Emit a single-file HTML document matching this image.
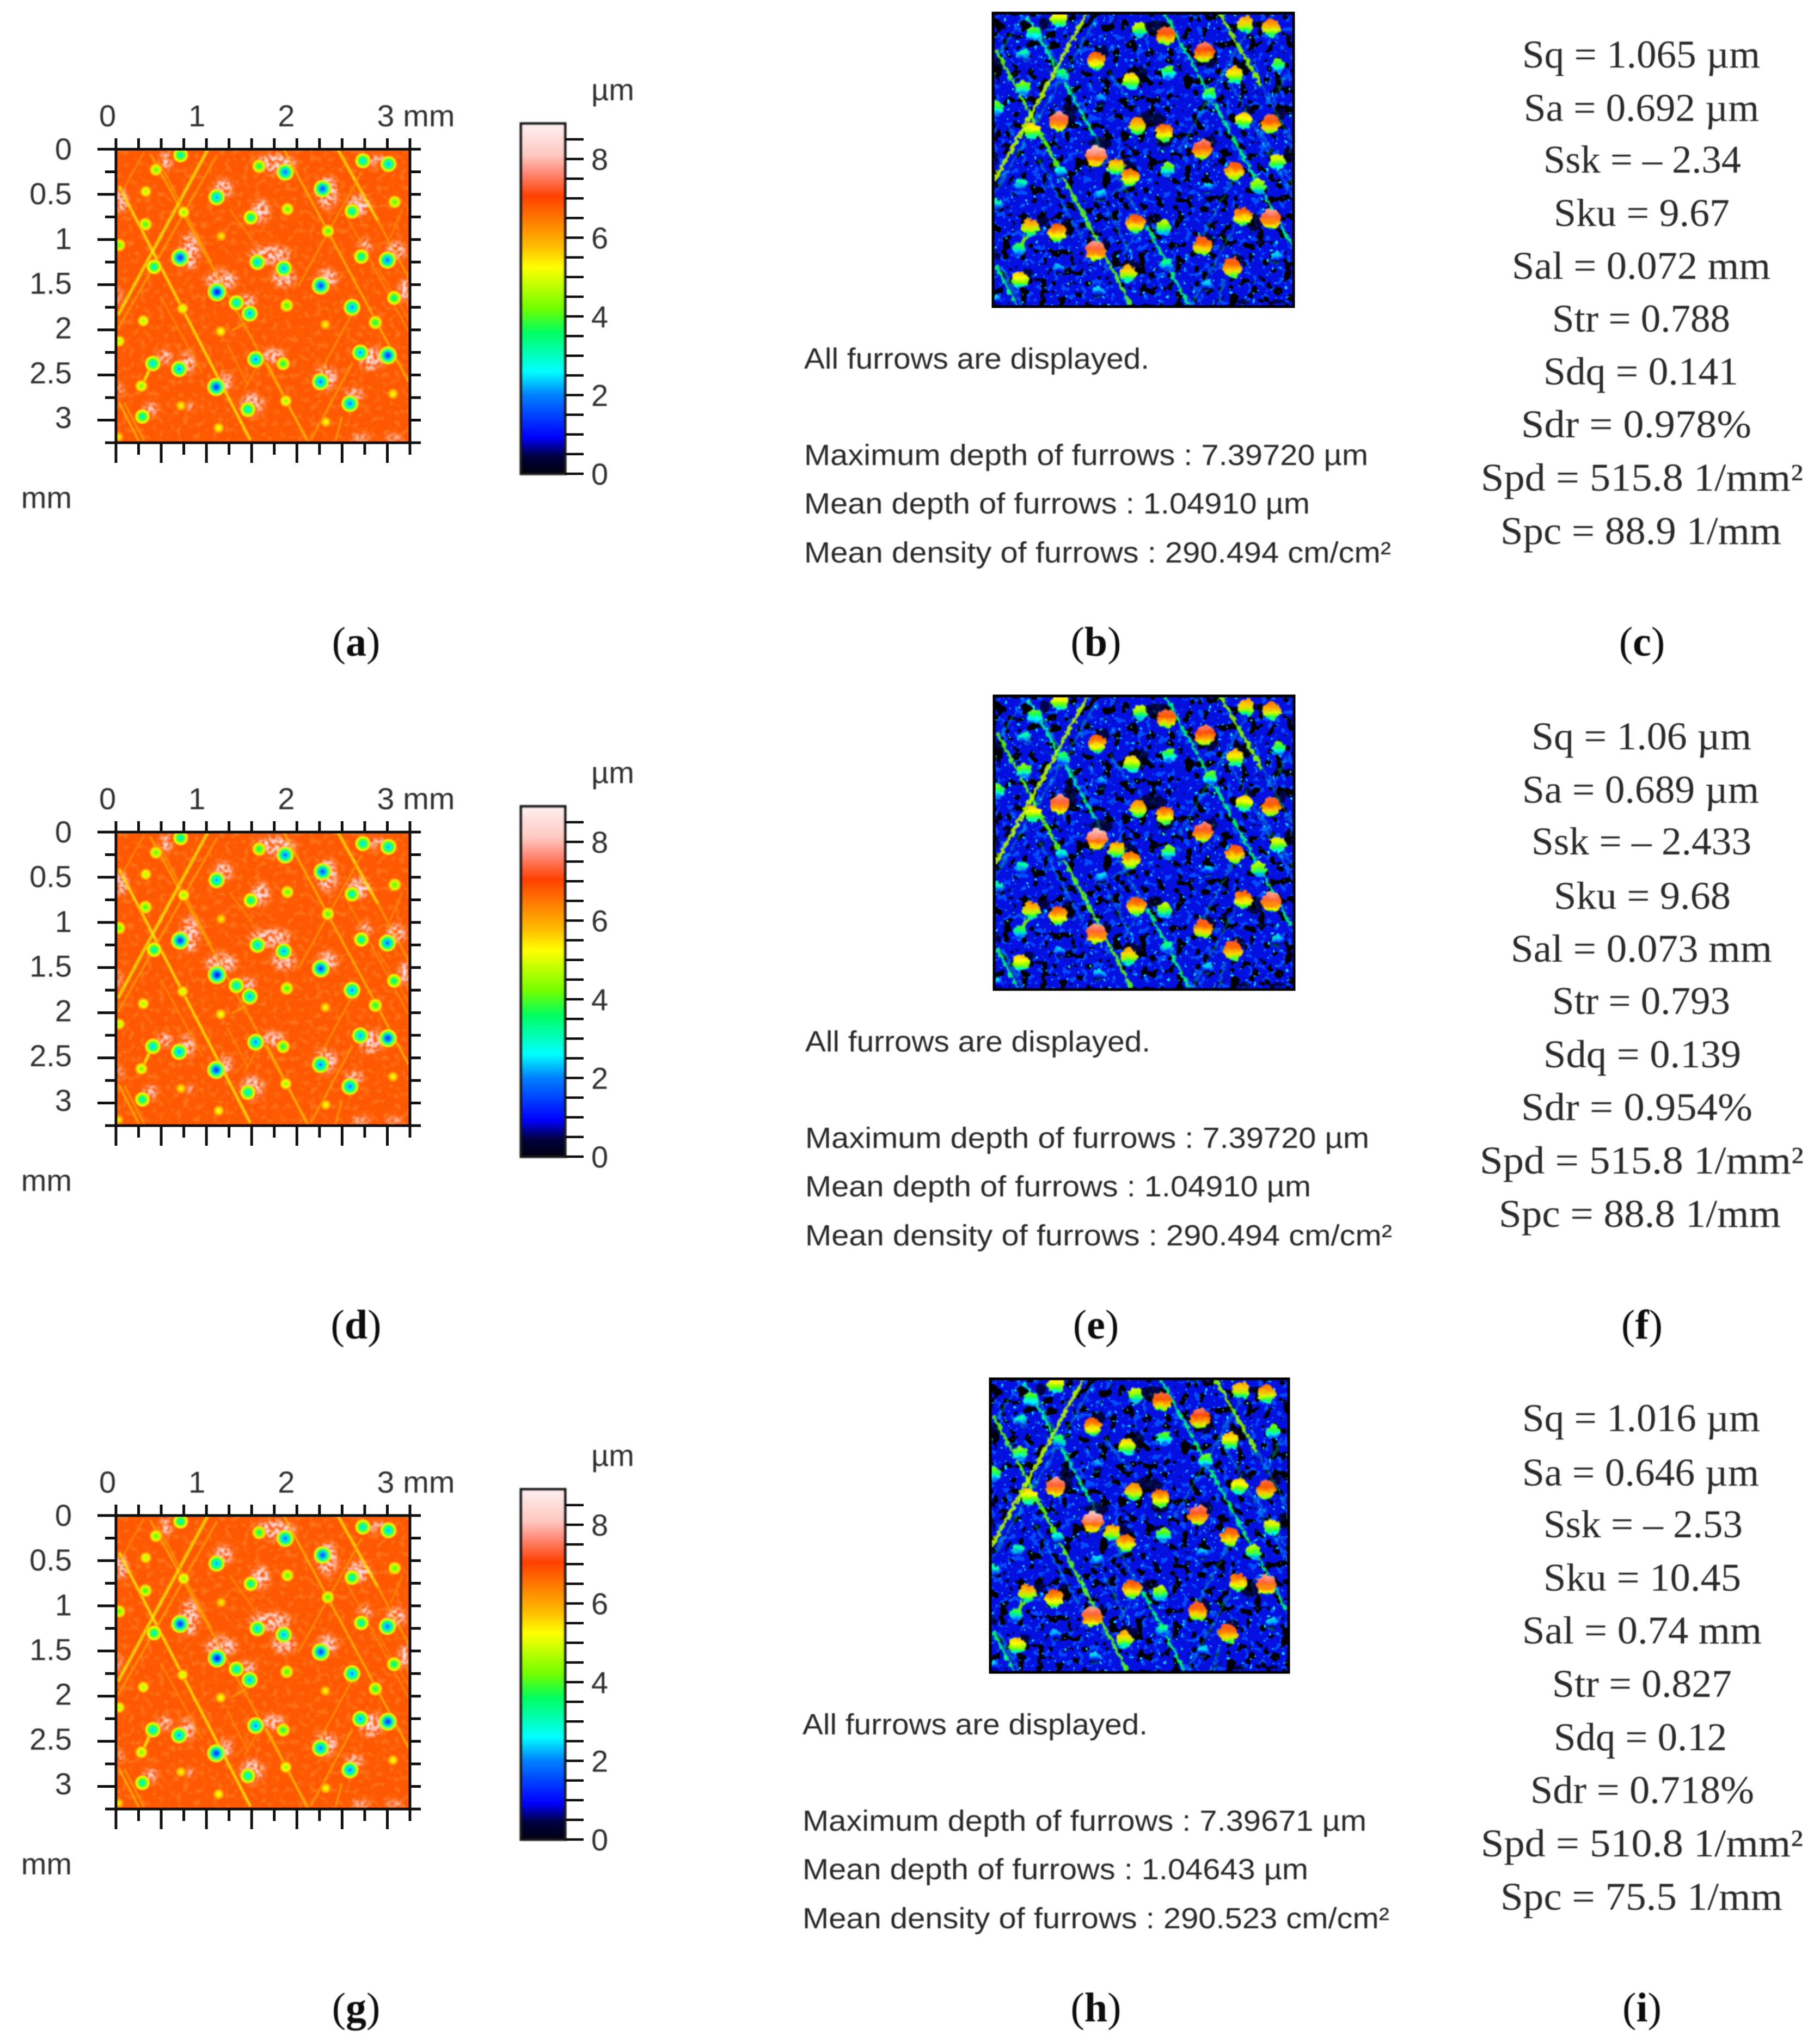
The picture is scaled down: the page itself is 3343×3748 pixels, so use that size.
<!DOCTYPE html>
<html lang="en">
<head>
<meta charset="utf-8">
<title>Surface topography, furrow maps and roughness parameters</title>
<style>
html,body{margin:0;padding:0;background:#fff;width:3343px;height:3748px;overflow:hidden}
svg{display:block}
.ax{font-family:"Liberation Sans",sans-serif;font-size:56px;fill:#333}
.fur{font-family:"Liberation Sans",sans-serif;font-size:54px;fill:#2c2c2c}
.st{font-family:"Liberation Serif",serif;font-size:72px;fill:#2a2a2a}
.cap{font-family:"Liberation Serif",serif;font-size:76px;fill:#111;text-anchor:middle}
.cap tspan{font-weight:bold}
</style>
</head>
<body>
<svg id="root" xmlns="http://www.w3.org/2000/svg" width="3343" height="3748" viewBox="0 0 3343 3748">
<defs id="defs">
<filter id="soft" x="-5%" y="-5%" width="110%" height="110%"><feGaussianBlur stdDeviation="1.1"/></filter>
<filter id="softText" x="-5%" y="-20%" width="110%" height="140%"><feGaussianBlur stdDeviation="0.7"/></filter>
<filter id="haloF" x="-10%" y="-10%" width="120%" height="120%" color-interpolation-filters="sRGB">
  <feGaussianBlur in="SourceGraphic" stdDeviation="5" result="b"/>
  <feTurbulence type="fractalNoise" baseFrequency="0.15" numOctaves="2" seed="5"/>
  <feColorMatrix values="0 0 0 0 0  0 0 0 0 0  0 0 0 0 0  7 0 0 0 -2.9" result="n"/>
  <feComposite in="b" in2="n" operator="in"/>
  <feGaussianBlur stdDeviation="1.1"/>
</filter>
<filter id="mottle" x="0" y="0" width="100%" height="100%" color-interpolation-filters="sRGB">
  <feTurbulence type="fractalNoise" baseFrequency="0.09" numOctaves="3" seed="8"/>
  <feColorMatrix values="0 0 0 0 1  0 0 0 0 0.52  0 0 0 0 0.15  5 0 0 0 -2.6"/>
</filter>
<filter id="noiseBlack" x="0" y="0" width="100%" height="100%" color-interpolation-filters="sRGB">
  <feTurbulence type="fractalNoise" baseFrequency="0.06" numOctaves="2" seed="3"/>
  <feColorMatrix values="0 0 0 0 0  0 0 0 0 0  0 0 0 0 0  16 0 0 0 -9.3"/>
  <feGaussianBlur stdDeviation="0.9"/>
</filter>
<filter id="noiseAzure" x="0" y="0" width="100%" height="100%" color-interpolation-filters="sRGB">
  <feTurbulence type="fractalNoise" baseFrequency="0.08" numOctaves="2" seed="11"/>
  <feColorMatrix values="0 0 0 0 0  0 0 0 0 0.3  0 0 0 0 1  0 16 0 0 -9.6"/>
  <feGaussianBlur stdDeviation="0.9"/>
</filter>
<filter id="noiseCyan" x="0" y="0" width="100%" height="100%" color-interpolation-filters="sRGB">
  <feTurbulence type="fractalNoise" baseFrequency="0.12" numOctaves="2" seed="21"/>
  <feColorMatrix values="0 0 0 0 0  0 0 0 0 0.85  0 0 0 0 1  0 0 18 0 -12.8"/>
  <feGaussianBlur stdDeviation="0.9"/>
</filter>
<filter id="jag" x="-3%" y="-3%" width="106%" height="106%" color-interpolation-filters="sRGB">
  <feTurbulence type="fractalNoise" baseFrequency="0.12" numOctaves="2" seed="2" result="n"/>
  <feDisplacementMap in="SourceGraphic" in2="n" scale="12" xChannelSelector="R" yChannelSelector="G"/>
  <feGaussianBlur stdDeviation="1.2"/>
</filter>
</defs>
<rect x="0" y="0" width="3343" height="3748" fill="#ffffff"/>

<g id="rows"></g>

<g filter="url(#softText)">
<!-- furrow text, row 1 -->
<g>
<text class="fur" x="1477" y="677" textLength="634" lengthAdjust="spacingAndGlyphs">All furrows are displayed.</text>
<text class="fur" x="1477" y="854" textLength="1036" lengthAdjust="spacingAndGlyphs">Maximum depth of furrows : 7.39720 µm</text>
<text class="fur" x="1477" y="943" textLength="929" lengthAdjust="spacingAndGlyphs">Mean depth of furrows : 1.04910 µm</text>
<text class="fur" x="1477" y="1033" textLength="1078" lengthAdjust="spacingAndGlyphs">Mean density of furrows : 290.494 cm/cm²</text>
</g>
<!-- furrow text, row 2 -->
<g>
<text class="fur" x="1479" y="1931" textLength="634" lengthAdjust="spacingAndGlyphs">All furrows are displayed.</text>
<text class="fur" x="1479" y="2108" textLength="1036" lengthAdjust="spacingAndGlyphs">Maximum depth of furrows : 7.39720 µm</text>
<text class="fur" x="1479" y="2197" textLength="929" lengthAdjust="spacingAndGlyphs">Mean depth of furrows : 1.04910 µm</text>
<text class="fur" x="1479" y="2287" textLength="1078" lengthAdjust="spacingAndGlyphs">Mean density of furrows : 290.494 cm/cm²</text>
</g>
<!-- furrow text, row 3 -->
<g>
<text class="fur" x="1474" y="3185" textLength="634" lengthAdjust="spacingAndGlyphs">All furrows are displayed.</text>
<text class="fur" x="1474" y="3362" textLength="1036" lengthAdjust="spacingAndGlyphs">Maximum depth of furrows : 7.39671 µm</text>
<text class="fur" x="1474" y="3451" textLength="929" lengthAdjust="spacingAndGlyphs">Mean depth of furrows : 1.04643 µm</text>
<text class="fur" x="1474" y="3541" textLength="1078" lengthAdjust="spacingAndGlyphs">Mean density of furrows : 290.523 cm/cm²</text>
</g>

<!-- roughness parameters (c) -->
<g>
<text class="st" x="2796" y="124" textLength="437" lengthAdjust="spacingAndGlyphs">Sq = 1.065 µm</text>
<text class="st" x="2799" y="222" textLength="432" lengthAdjust="spacingAndGlyphs">Sa = 0.692 µm</text>
<text class="st" x="2835" y="317" textLength="363" lengthAdjust="spacingAndGlyphs">Ssk = – 2.34</text>
<text class="st" x="2854" y="415" textLength="323" lengthAdjust="spacingAndGlyphs">Sku = 9.67</text>
<text class="st" x="2777" y="512" textLength="475" lengthAdjust="spacingAndGlyphs">Sal = 0.072 mm</text>
<text class="st" x="2851" y="609" textLength="327" lengthAdjust="spacingAndGlyphs">Str = 0.788</text>
<text class="st" x="2835" y="706" textLength="358" lengthAdjust="spacingAndGlyphs">Sdq = 0.141</text>
<text class="st" x="2794" y="803" textLength="423" lengthAdjust="spacingAndGlyphs">Sdr = 0.978%</text>
<text class="st" x="2720" y="901" textLength="592" lengthAdjust="spacingAndGlyphs">Spd = 515.8 1/mm²</text>
<text class="st" x="2756" y="999" textLength="516" lengthAdjust="spacingAndGlyphs">Spc = 88.9 1/mm</text>
</g>
<!-- roughness parameters (f) -->
<g>
<text class="st" x="2813" y="1376" textLength="404" lengthAdjust="spacingAndGlyphs">Sq = 1.06 µm</text>
<text class="st" x="2796" y="1474" textLength="435" lengthAdjust="spacingAndGlyphs">Sa = 0.689 µm</text>
<text class="st" x="2813" y="1569" textLength="404" lengthAdjust="spacingAndGlyphs">Ssk = – 2.433</text>
<text class="st" x="2854" y="1669" textLength="325" lengthAdjust="spacingAndGlyphs">Sku = 9.68</text>
<text class="st" x="2775" y="1766" textLength="480" lengthAdjust="spacingAndGlyphs">Sal = 0.073 mm</text>
<text class="st" x="2851" y="1862" textLength="327" lengthAdjust="spacingAndGlyphs">Str = 0.793</text>
<text class="st" x="2835" y="1960" textLength="363" lengthAdjust="spacingAndGlyphs">Sdq = 0.139</text>
<text class="st" x="2794" y="2057" textLength="425" lengthAdjust="spacingAndGlyphs">Sdr = 0.954%</text>
<text class="st" x="2718" y="2155" textLength="595" lengthAdjust="spacingAndGlyphs">Spd = 515.8 1/mm²</text>
<text class="st" x="2753" y="2253" textLength="518" lengthAdjust="spacingAndGlyphs">Spc = 88.8 1/mm</text>
</g>
<!-- roughness parameters (i) -->
<g>
<text class="st" x="2796" y="2628" textLength="437" lengthAdjust="spacingAndGlyphs">Sq = 1.016 µm</text>
<text class="st" x="2796" y="2728" textLength="435" lengthAdjust="spacingAndGlyphs">Sa = 0.646 µm</text>
<text class="st" x="2835" y="2823" textLength="366" lengthAdjust="spacingAndGlyphs">Ssk = – 2.53</text>
<text class="st" x="2835" y="2921" textLength="363" lengthAdjust="spacingAndGlyphs">Sku = 10.45</text>
<text class="st" x="2796" y="3018" textLength="440" lengthAdjust="spacingAndGlyphs">Sal = 0.74 mm</text>
<text class="st" x="2851" y="3116" textLength="330" lengthAdjust="spacingAndGlyphs">Str = 0.827</text>
<text class="st" x="2854" y="3214" textLength="318" lengthAdjust="spacingAndGlyphs">Sdq = 0.12</text>
<text class="st" x="2811" y="3311" textLength="411" lengthAdjust="spacingAndGlyphs">Sdr = 0.718%</text>
<text class="st" x="2720" y="3409" textLength="592" lengthAdjust="spacingAndGlyphs">Spd = 510.8 1/mm²</text>
<text class="st" x="2756" y="3507" textLength="518" lengthAdjust="spacingAndGlyphs">Spc = 75.5 1/mm</text>
</g>

<!-- captions -->
<text class="cap" x="654" y="1204">(<tspan>a</tspan>)</text>
<text class="cap" x="2013" y="1204">(<tspan>b</tspan>)</text>
<text class="cap" x="3016" y="1204">(<tspan>c</tspan>)</text>
<text class="cap" x="654" y="2458">(<tspan>d</tspan>)</text>
<text class="cap" x="2013" y="2458">(<tspan>e</tspan>)</text>
<text class="cap" x="3016" y="2458">(<tspan>f</tspan>)</text>
<text class="cap" x="654" y="3712">(<tspan>g</tspan>)</text>
<text class="cap" x="2013" y="3712">(<tspan>h</tspan>)</text>
<text class="cap" x="3016" y="3712">(<tspan>i</tspan>)</text>
</g>
</svg>

<script>
// ---- colour scale (µm -> colour) ----
const colorValues = [0, 0.45, 0.93, 2.0, 2.6, 3.6, 4.2, 5.25, 5.75, 7.05, 7.7, 8.1, 8.9];
const colorReds   = [0, 0, 0, 0, 0, 0, 112, 255, 255, 255, 255, 255, 255];
const colorGreens = [0, 0, 0, 128, 255, 255, 255, 255, 192, 64, 144, 200, 240];
const colorBlues  = [16, 64, 255, 255, 255, 96, 0, 0, 0, 0, 128, 192, 240];
const colorbarTicks = [0, 0.5, 1, 1.5, 2, 2.5, 3, 3.5, 4, 4.5, 5, 5.5, 6, 6.5, 7, 7.5, 8, 8.5];
const colorbarLabels = [0, 2, 4, 6, 8];

// ---- axis ticks (mm) ----
const axisTicks = [0, 0.25, 0.5, 0.75, 1, 1.25, 1.5, 1.75, 2, 2.25, 2.5, 2.75, 3, 3.25];
const xTickLabels = ["0", "1", "2", "3 mm"];
const xTickLabelValues = [0, 1, 2, 3];
const yTickLabels = ["0", "0.5", "1", "1.5", "2", "2.5", "3"];
const yTickLabelValues = [0, 0.5, 1, 1.5, 2, 2.5, 3];

// ---- dimples: centre (mm) and minimum height (µm) ----
const spotX = [0.714,0.442,1.582,1.870,2.729,3.012,0.329,1.112,2.284,1.895,3.081,1.490,2.609,0.748,0.325,2.342,1.163,0.035,0.709,0.421,1.563,1.854,2.712,3.000,1.117,2.263,1.331,1.478,1.888,2.609,3.074,0.737,0.302,1.158,2.314,0.035,0.408,0.698,1.543,1.847,2.701,3.005,0.281,1.108,2.261,1.458,1.877,2.586,3.062,0.292,0.718,1.135,2.319,0.028,2.867];
const spotY = [0.064,0.226,0.187,0.253,0.127,0.163,0.467,0.530,0.437,0.663,0.583,0.755,0.686,0.698,0.831,0.905,0.962,1.061,1.200,1.301,1.250,1.319,1.188,1.227,1.580,1.510,1.699,1.819,1.729,1.750,1.646,1.764,1.900,2.017,1.941,2.125,2.372,2.432,2.326,2.374,2.252,2.282,2.620,2.632,2.574,2.881,2.786,2.816,2.708,2.959,2.839,3.085,3.019,3.185,1.918];
const spotDepth = [2.8,4.0,3.4,1.6,2.5,2.2,4.6,2.0,1.4,4.0,3.9,2.9,2.7,4.3,3.8,3.9,5.3,4.0,1.2,2.8,2.3,2.0,2.8,1.6,0.9,1.3,2.5,2.1,3.8,1.8,3.1,4.7,4.5,5.0,5.2,4.6,2.4,2.0,1.8,3.5,2.0,1.2,4.2,1.2,1.7,2.6,4.4,1.7,5.1,2.8,5.2,5.0,5.1,5.3,3.5];

// ---- furrows: end points (mm) and height along the furrow (µm) ----
const furrowX1 = [1.854,2.452,2.893,0.380,1.094,0.035,1.669,0.035,0.092,1.013,1.117,2.717,2.613,2.613,2.498,0.311,0.472,2.544,0.391,1.278,0.495,1.232,3.166,1.255,2.890,1.554];
const furrowY1 = [0,0,0.790,0.053,1.354,0.410,2.367,2.805,2.805,0.007,0.064,0.249,1.814,2.367,2.966,0.030,0.134,0.732,2.390,2.010,1.630,2.160,0.663,0.663,1.308,2.413];
const furrowX2 = [3.235,2.893,3.235,1.094,2.130,1.485,2.107,0.253,0.311,0.023,0.023,2.015,2.176,2.153,2.429,0.058,1.048,3.235,0.299,1.439,0.956,1.462,3.028,1.508,3.235,1.416];
const furrowY2 = [2.574,0.790,1.423,1.354,3.242,3.219,3.219,3.230,3.230,1.837,1.987,1.515,2.620,3.219,3.219,0.479,1.239,2.022,2.597,1.918,2.482,2.620,0.985,1.008,1.883,2.666];
const furrowDepth = [5.5,4.9,5.7,5.6,5.7,5.1,5.5,5.5,5.7,4.7,5.7,5.8,5.8,5.7,5.7,5.9,5.8,5.9,5.0,5.7,5.9,5.9,5.9,5.9,6.0,5.9];

// ---- raised rims around dimples (mm) ----
const haloX  = [0.553,1.761,2.337,1.186,2.682,1.600,0.817,1.704,1.854,2.337,1.163,1.462,3.097,3.189,0.541,0.794,1.738,2.821,2.314,1.209,1.508,2.636,0.380,0.829,2.890,0.058,2.706,3.074,0.035,0.035,2.752];
const haloY  = [0.122,0.157,0.479,0.433,0.617,0.686,1.124,1.170,1.423,1.423,1.446,1.676,1.124,1.561,2.298,2.367,2.286,2.321,2.528,2.574,2.828,2.712,2.874,2.851,0.122,0.571,3.196,3.196,1.630,2.666,1.078];
const haloRx = [0.058,0.207,0.104,0.092,0.115,0.092,0.092,0.207,0.115,0.104,0.161,0.081,0.092,0.058,0.069,0.069,0.115,0.115,0.115,0.069,0.115,0.092,0.069,0.035,0.104,0.069,0.092,0.092,0.023,0.035,0.069];
const haloRy = [0.092,0.092,0.161,0.092,0.104,0.115,0.184,0.092,0.092,0.092,0.092,0.058,0.092,0.115,0.069,0.115,0.069,0.115,0.115,0.092,0.115,0.058,0.069,0.046,0.046,0.115,0.035,0.028,0.092,0.069,0.069];

const NS = "http://www.w3.org/2000/svg";
const defs = document.getElementById("defs");
const rows = document.getElementById("rows");

function add(parent, tag, attrs) {
  const n = document.createElementNS(NS, tag);
  for (const k in attrs) n.setAttribute(k, attrs[k]);
  parent.appendChild(n);
  return n;
}
function colorAt(v) {
  const t = Math.max(colorValues[0], Math.min(colorValues[colorValues.length - 1], v));
  let i = 0;
  while (i < colorValues.length - 2 && t > colorValues[i + 1]) i++;
  const f = (t - colorValues[i]) / (colorValues[i + 1] - colorValues[i]);
  const r = colorReds[i] + (colorReds[i + 1] - colorReds[i]) * f;
  const g = colorGreens[i] + (colorGreens[i + 1] - colorGreens[i]) * f;
  const b = colorBlues[i] + (colorBlues[i + 1] - colorBlues[i]) * f;
  return "rgb(" + Math.round(r) + "," + Math.round(g) + "," + Math.round(b) + ")";
}
const MM_RANGE = 3.25;
const BASE_LEVEL = 6.8;
function heightToValue(d) { return (7.3 - d) * 1.3; }
function furrowToValue(d) { return (6.9 - d) * 1.6 + 1.2; }
function spotRadius(d) { return (42 - 4 * d) / 2.613; }

// shared gradients, one per dimple
const ringFractions = [0, 0.15, 0.35, 0.6, 0.72, 1];
const ringOffsets = [0, 0.3, 0.55, 0.8, 0.92, 1];
spotDepth.forEach(function (d, i) {
  const rg = add(defs, "radialGradient", { id: "spotA" + i });
  ringFractions.forEach(function (f, k) {
    add(rg, "stop", { offset: ringOffsets[k], "stop-color": colorAt(d + (BASE_LEVEL - d) * f) });
  });
  const cv = heightToValue(d);
  const lg = add(defs, "linearGradient", { id: "spotB" + i, x1: 0, y1: 0, x2: 0, y2: 1 });
  add(lg, "stop", { offset: 0, "stop-color": colorAt(cv) });
  add(lg, "stop", { offset: 0.35, "stop-color": colorAt(cv - 0.6) });
  add(lg, "stop", { offset: 0.65, "stop-color": colorAt(cv - 1.7) });
  add(lg, "stop", { offset: 0.85, "stop-color": colorAt(cv - 2.8) });
  add(lg, "stop", { offset: 1, "stop-color": colorAt(Math.max(cv - 4, 2.5)) });
});

function drawHeightMap(parent, x0, y0, w, h) {
  const sx = function (mm) { return mm * w / MM_RANGE; };
  const sy = function (mm) { return mm * h / MM_RANGE; };
  const map = add(parent, "svg", { x: x0, y: y0, width: w, height: h });
  
  
  const inner = add(map, "g", { filter: "url(#soft)" });
  add(inner, "rect", { x: -5, y: -5, width: w + 10, height: h + 10, fill: colorAt(BASE_LEVEL) });
  add(inner, "rect", { x: 0, y: 0, width: w, height: h, filter: "url(#mottle)", opacity: 0.55 });
  const halos = add(inner, "g", { filter: "url(#haloF)", fill: "#ffe0e0" });
  haloX.forEach(function (v, i) {
    const e = add(halos, "ellipse", { cx: sx(v), cy: sy(haloY[i]), rx: sx(haloRx[i]) * 1.1, ry: sy(haloRy[i]) * 1.1 });
    
    
  });
  furrowX1.forEach(function (v, i) {
    const d = furrowDepth[i];
    const ln = add(inner, "line", {
      x1: sx(v), y1: sy(furrowY1[i]), x2: sx(furrowX2[i]), y2: sy(furrowY2[i]),
      stroke: colorAt(d + 0.4), "stroke-width": (7.2 - d) * 2.2,
      "stroke-opacity": d < 5 ? 0.65 : 0.85
    });
    
    
  });
  spotX.forEach(function (v, i) {
    const c = add(inner, "circle", { cx: sx(v), cy: sy(spotY[i]), r: spotRadius(spotDepth[i]) * 1.18, fill: "url(#spotA" + i + ")" });
    
    
  });
  // axes
  const X = function (mm) { return x0 + sx(mm); };
  const Y = function (mm) { return y0 + sy(mm); };
  const ax = add(parent, "g", { stroke: "#111", "stroke-width": 5, fill: "none" });
  
  
  const frame = add(ax, "rect", { x: x0, y: y0, width: w, height: h });
  
  
  axisTicks.forEach(function (t, i) {
    const major = i % 2 === 0;
    const a = add(ax, "line", { x1: X(t), y1: y0 - 20, x2: X(t), y2: y0 });
    
    
    const b = add(ax, "line", { x1: X(t), y1: y0 + h, x2: X(t), y2: y0 + h + (major ? 37 : 22) });
    
    
    const c = add(ax, "line", { x1: x0 - (major ? 34 : 20), y1: Y(t), x2: x0, y2: Y(t) });
    
    
    const e = add(ax, "line", { x1: x0 + w, y1: Y(t), x2: x0 + w + 20, y2: Y(t) });
    
    
  });
  const labels = add(parent, "g", { filter: "url(#softText)" });
  
  
  xTickLabels.forEach(function (s, i) {
    const v = xTickLabelValues[i];
    const t = add(labels, "text", { class: "ax", x: X(v) - 31 + (i === 3 ? 12 : -v * 2), y: y0 - 42 });
    t.textContent = s;
    if (i === 3) { t.setAttribute("textLength", 143); t.setAttribute("lengthAdjust", "spacingAndGlyphs"); }
    
    
  });
  yTickLabels.forEach(function (s, i) {
    const t = add(labels, "text", { class: "ax", x: x0 - 81, y: Y(yTickLabelValues[i]) - yTickLabelValues[i] * 1.5 + 19, "text-anchor": "end" });
    t.textContent = s;
    
    
  });
  const unit = add(labels, "text", { class: "ax", x: x0 - 81, y: y0 + 659, "text-anchor": "end" });
  unit.textContent = "mm";
  
  
}

function drawColorbar(parent, rowIndex, x0, top, bottom) {
  const w = 81;
  const gid = "cbar" + rowIndex;
  const maxV = 8.9;
  const lg = add(defs, "linearGradient", { id: gid, x1: 0, y1: 1, x2: 0, y2: 0 });
  colorValues.forEach(function (v) {
    add(lg, "stop", { offset: v / maxV, "stop-color": colorAt(v) });
  });
  const Yc = function (v) { return bottom - v * (bottom - top) / maxV; };
  const g = add(parent, "g", {});
  
  
  const bar = add(g, "rect", { x: x0, y: top, width: w, height: bottom - top, fill: "url(#" + gid + ")", stroke: "#151515", "stroke-width": 5, filter: "url(#soft)" });
  
  
  colorbarTicks.forEach(function (v) {
    const l = add(g, "line", { x1: x0 + w, y1: Yc(v), x2: x0 + w + 34, y2: Yc(v), stroke: "#111", "stroke-width": 4.5 });
    
    
  });
  const lbl = add(g, "g", { filter: "url(#softText)" });
  colorbarLabels.forEach(function (v) {
    const t = add(lbl, "text", { class: "ax", x: x0 + 129, y: Yc(v) + 20 });
    t.textContent = v;
    
    
  });
  const u = add(lbl, "text", { class: "ax", x: x0 + 129, y: top - 43 });
  u.textContent = "µm";
  
  
}

function drawFurrowMap(parent, x0, y0, w, h) {
  const sx = function (mm) { return mm * w / MM_RANGE; };
  const sy = function (mm) { return mm * h / MM_RANGE; };
  const map = add(parent, "svg", { x: x0, y: y0, width: w, height: h });
  
  
  add(map, "rect", { x: 0, y: 0, width: w, height: h, fill: "#0410e0" });
  add(map, "rect", { x: 0, y: 0, width: w, height: h, filter: "url(#noiseAzure)" });
  add(map, "rect", { x: 0, y: 0, width: w, height: h, filter: "url(#noiseBlack)" });
  add(map, "rect", { x: 0, y: 0, width: w, height: h, filter: "url(#noiseCyan)" });
  const j = add(map, "g", { filter: "url(#jag)" });
  const dark = add(j, "g", { fill: "#000010", opacity: 0.75 });
  haloX.forEach(function (v, i) {
    const e = add(dark, "ellipse", { cx: sx(v), cy: sy(haloY[i]), rx: sx(haloRx[i]) * 0.8, ry: sy(haloRy[i]) * 0.8 });
    
    
  });
  furrowX1.forEach(function (v, i) {
    const d = furrowDepth[i];
    const ln = add(j, "line", {
      x1: sx(v), y1: sy(furrowY1[i]), x2: sx(furrowX2[i]), y2: sy(furrowY2[i]),
      stroke: colorAt(furrowToValue(d)),
      "stroke-width": (7.2 - d) * 1.6 + 2.5,
      "stroke-opacity": d > 5.65 ? 0.3 : 0.9,
      "stroke-dasharray": "34 5 18 7",
      "stroke-linecap": "round"
    });
    
    
  });
  spotX.forEach(function (v, i) {
    const c = add(j, "circle", { cx: sx(v), cy: sy(spotY[i]), r: spotRadius(spotDepth[i]) * 1.3, fill: "url(#spotB" + i + ")" });
    
    
  });
  const f = add(parent, "rect", { x: x0, y: y0, width: w, height: h, fill: "none", stroke: "#000", "stroke-width": 5 });
  
  
}

const ROW_STEP = 1254;
const mapNudge = [0, 0, 1];
const furrowOrigins = [[1824, 24, 552, 539], [1826, 1278, 551, 539], [1819, 2532, 548, 539]];
[0, 1, 2].forEach(function (r) {
  const g = add(rows, "g", {});
  
  
  drawHeightMap(g, 213, 274 + r * ROW_STEP + mapNudge[r], 540, 539);
  drawColorbar(g, r, 957, 227 + r * ROW_STEP, 870 + r * ROW_STEP);
  const o = furrowOrigins[r];
  drawFurrowMap(g, o[0], o[1], o[2], o[3]);
});
</script>
</body>
</html>
